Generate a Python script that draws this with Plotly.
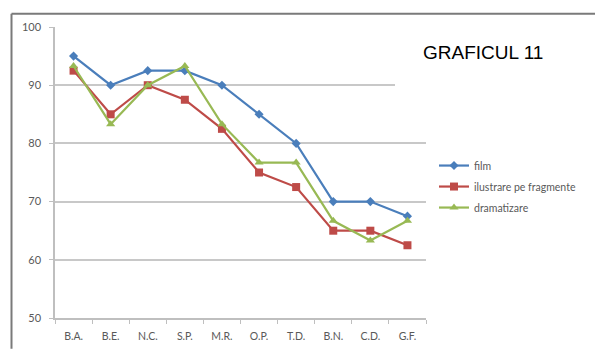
import plotly.graph_objects as go

# Student initials along the x axis
categories = ["B.A.", "B.E.", "N.C.", "S.P.", "M.R.", "O.P.", "T.D.", "B.N.", "C.D.", "G.F."]

# Scores per method
film = [95, 90, 92.5, 92.5, 90, 85, 80, 70, 70, 67.5]
ilustrare = [92.5, 85, 90, 87.5, 82.5, 75, 72.5, 65, 65, 62.5]
dramatizare = [93.3, 83.3, 90, 93.3, 83.3, 76.7, 76.7, 66.7, 63.3, 66.7]

y_ticks = [50, 60, 70, 80, 90, 100]

W, H = 595, 349
L, R, T, B = 55, 426, 26.7, 318.3

def px_x(x):
    return (x - L) / (R - L)

def px_y(y):
    return (B - y) / (B - T)

fig = go.Figure()

series = [
    ("film", film, "#4a7ebb", "diamond", 7),
    ("ilustrare pe fragmente", ilustrare, "#be4b48", "square", 8),
    ("dramatizare", dramatizare, "#98b954", "triangle-up", 8),
]
for name, vals, color, sym, size in series:
    fig.add_trace(go.Scatter(
        x=categories, y=vals, name=name, mode="lines+markers",
        line=dict(color=color, width=2.2),
        marker=dict(symbol=sym, size=size, color=color),
        legendgroup=name,
    ))

# outer chart frame (top and left edges; the rest runs off the canvas)
frame = dict(color="#7a7a7a", width=2)
fig.add_shape(type="line", xref="paper", yref="paper",
              x0=px_x(11.5), x1=px_x(W), y0=px_y(13.5), y1=px_y(13.5),
              line=frame, layer="above")
fig.add_shape(type="line", xref="paper", yref="paper",
              x0=px_x(11.5), x1=px_x(11.5), y0=px_y(H), y1=px_y(13.5),
              line=frame, layer="above")

# white box behind the chart title
fig.add_shape(type="rect", xref="paper", yref="paper",
              x0=px_x(395), x1=px_x(572), y0=px_y(92), y1=px_y(31),
              line=dict(width=0), fillcolor="white", layer="above")

fig.add_annotation(text="GRAFICUL 11", xref="paper", yref="paper",
                   x=px_x(482.5), y=px_y(52), xanchor="center", yanchor="middle",
                   showarrow=False,
                   font=dict(family="Liberation Sans, Arial", size=19, color="#000000"))

fig.update_layout(
    width=W, height=H,
    margin=dict(l=L, r=W - R, t=T, b=H - B, pad=0, autoexpand=False),
    paper_bgcolor="white", plot_bgcolor="white",
    showlegend=True,
    legend=dict(x=px_x(434), y=px_y(151), xanchor="left", yanchor="top",
                font=dict(family="Lato, Carlito, sans-serif", size=10.5, color="#595959"),
                itemwidth=30, tracegroupgap=2, bgcolor="rgba(0,0,0,0)"),
    font=dict(family="Lato, sans-serif", color="#595959"),
)

fig.update_xaxes(
    type="category", range=[-0.5, 9.5], showgrid=False, automargin=False,
    showline=True, linecolor="#bfbfbf", linewidth=1.5,
    ticks="outside", tickson="boundaries", ticklen=4, tickcolor="#bfbfbf",
    ticklabelstandoff=8,
    tickfont=dict(family="Lato, sans-serif", size=10.5, color="#595959"),
)
fig.update_yaxes(
    range=[50, 100], tickvals=y_ticks, showgrid=True, gridcolor="#c8c8c8", gridwidth=1.5,
    showline=True, linecolor="#bfbfbf", linewidth=1.5, zeroline=False, automargin=False,
    ticks="outside", ticklen=4, tickcolor="#bfbfbf",
    ticklabelstandoff=6,
    tickfont=dict(family="Lato, sans-serif", size=11, color="#595959"),
)

fig.write_html("out.html")
